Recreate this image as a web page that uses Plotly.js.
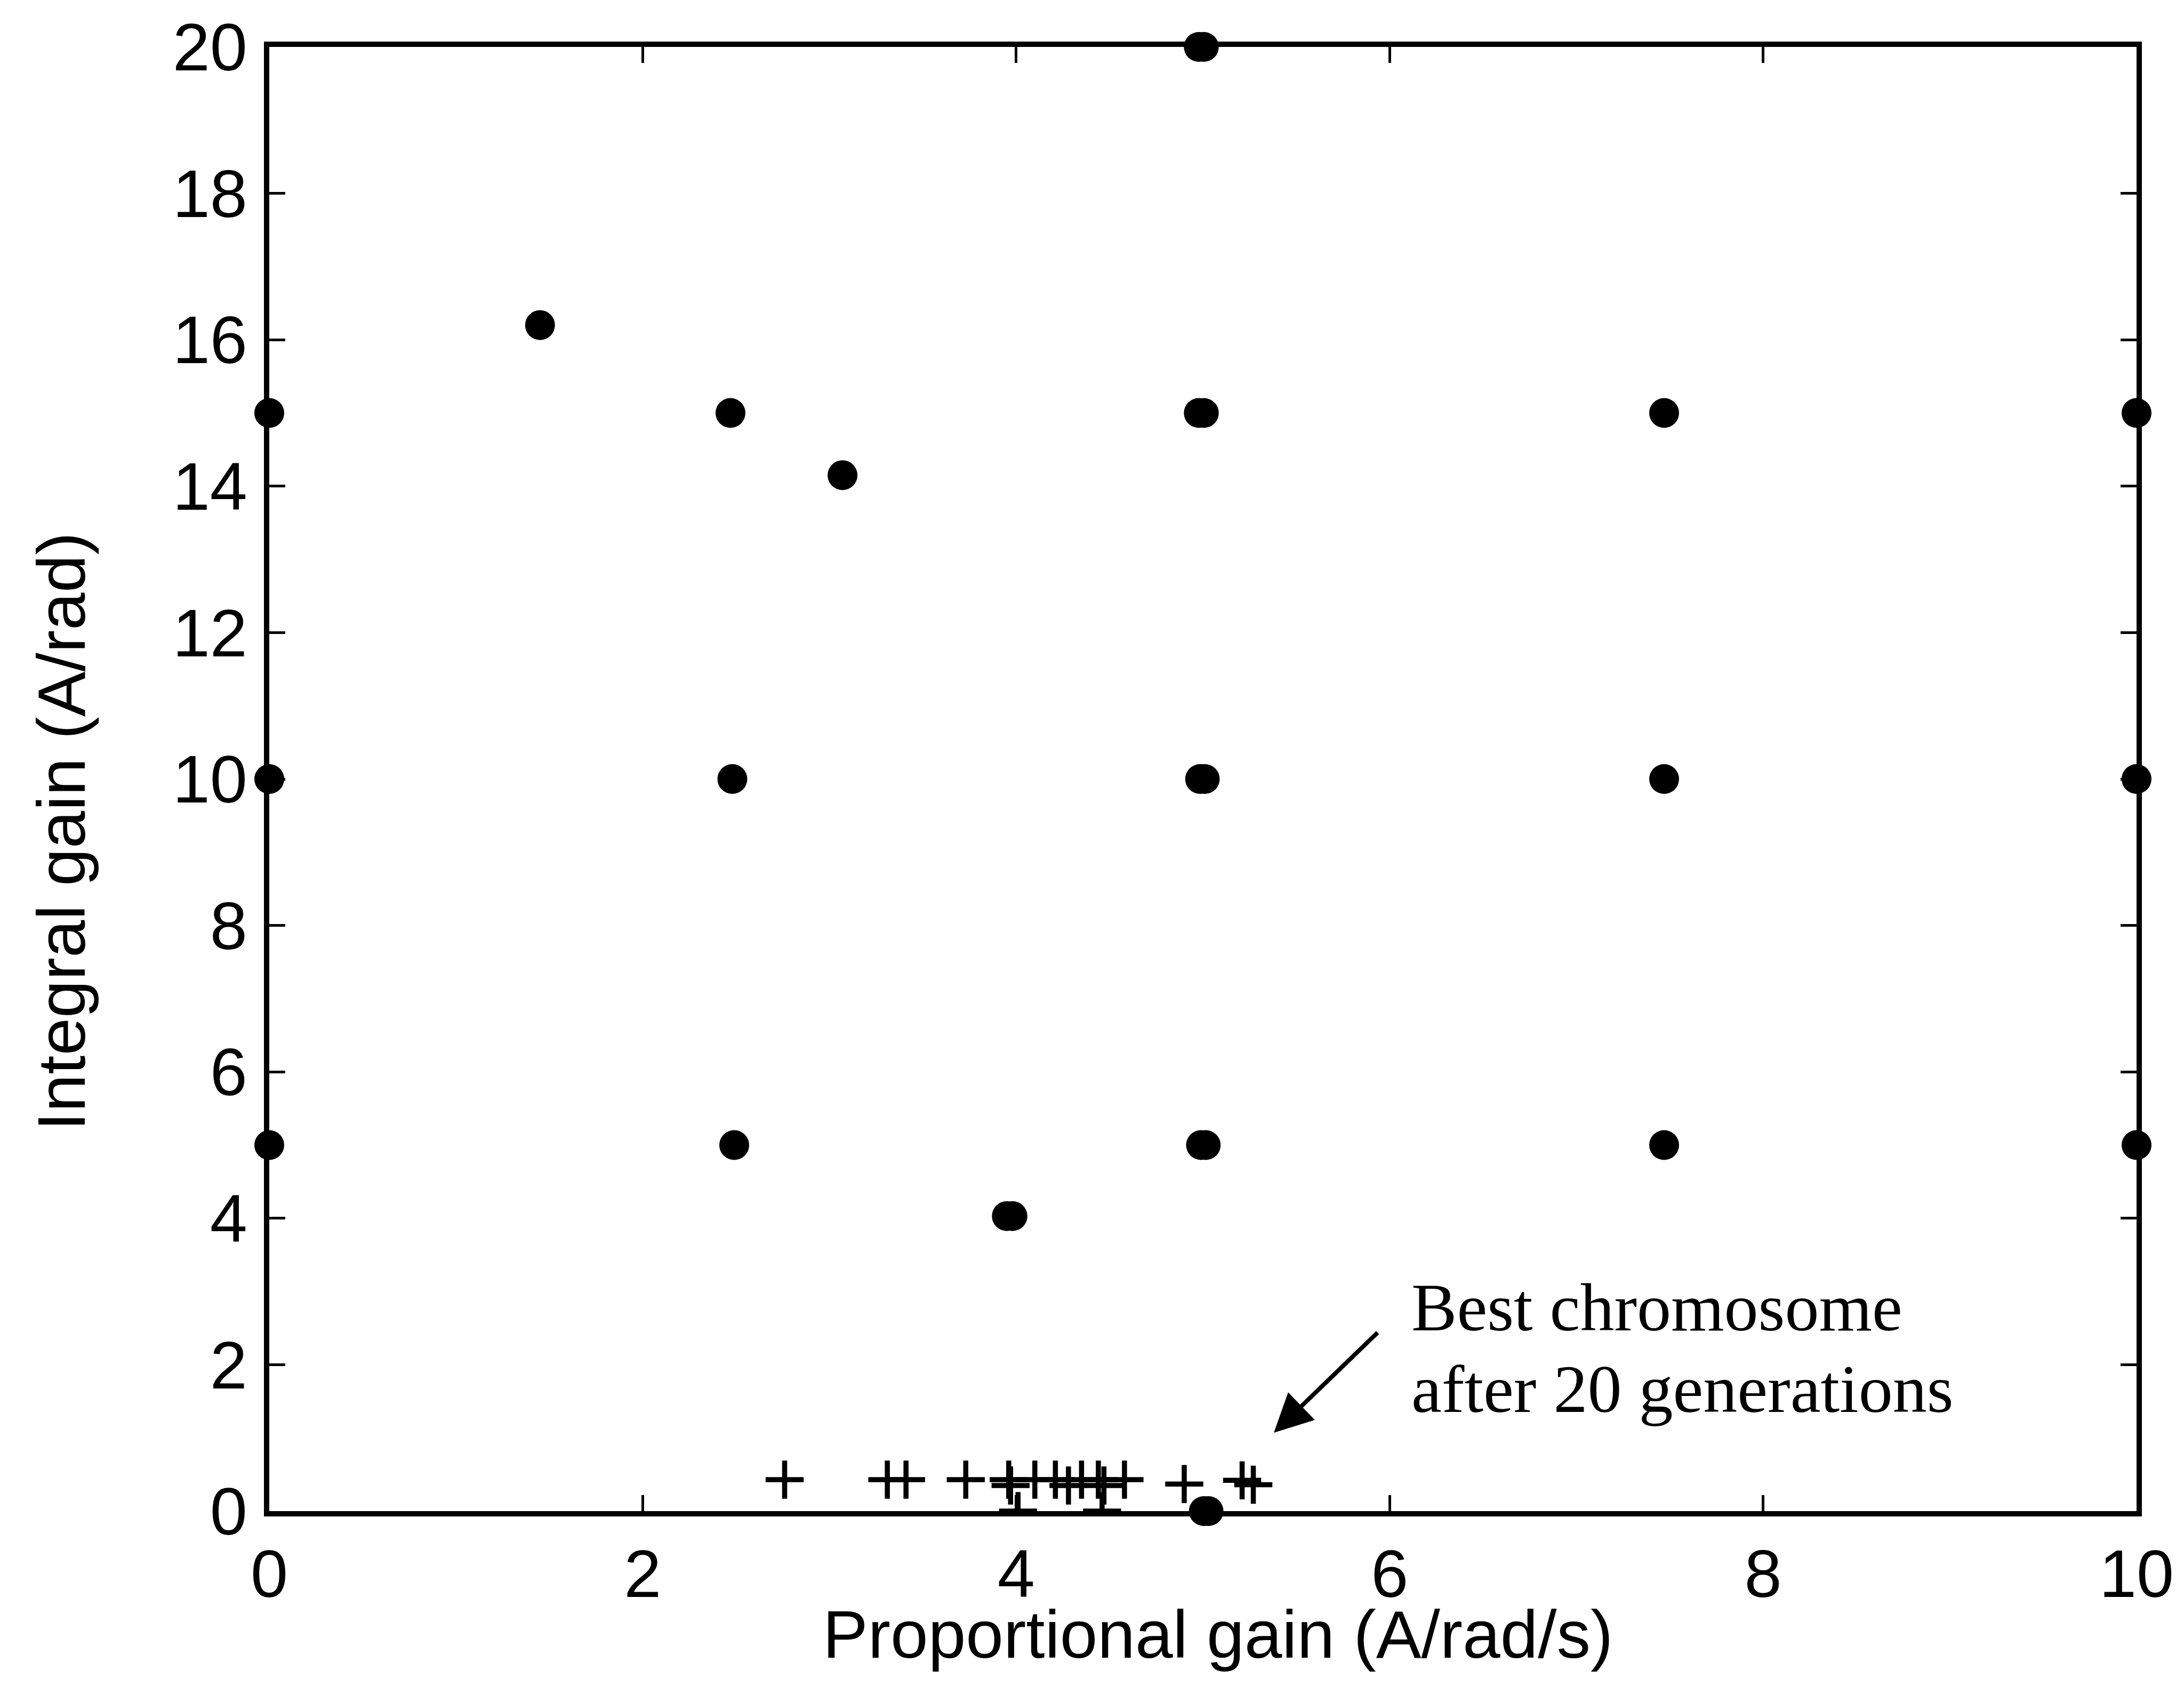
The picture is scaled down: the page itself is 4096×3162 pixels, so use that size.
<!DOCTYPE html>
<html>
<head>
<meta charset="utf-8">
<script src="https://cdn.plot.ly/plotly-3.0.1.min.js"></script>
<style>
  html, body { margin: 0; padding: 0; background: #ffffff; }
  #chart { width: 4096px; height: 3162px; }
</style>
</head>
<body>
<div id="chart"></div>
<script>
// Population (filled circles): proportional gain vs integral gain
const dotsKp = [0, 0, 0, 1.45, 2.47, 2.48, 2.49, 3.07, 3.95, 3.98,
                4.978, 5.005, 4.978, 5.005, 4.985, 5.01, 4.99, 5.015, 5.005, 5.03,
                7.47, 7.47, 7.47, 10, 10, 10];
const dotsKi = [15, 10, 5, 16.2, 15, 10, 5, 14.15, 4.03, 4.03,
                20, 20, 15, 15, 10, 10, 5, 5, 0, 0,
                15, 10, 5, 15, 10, 5];

// Population after 20 generations (plus markers)
const plusKp = [2.76, 3.31, 3.41, 3.73, 3.96, 4.10, 4.21, 4.35, 4.44, 4.58, 4.90, 5.21,
                3.97, 4.28, 4.47, 5.27,
                4.01, 4.46];
const plusKi = [0.43, 0.43, 0.43, 0.43, 0.43, 0.43, 0.43, 0.43, 0.43, 0.43, 0.37, 0.42,
                0.35, 0.35, 0.35, 0.36,
                0, 0];

const xTicks = [0, 2, 4, 6, 8, 10];
const yTicks = [0, 2, 4, 6, 8, 10, 12, 14, 16, 18, 20];

const xTitle = 'Proportional gain (A/rad/s)';
const yTitle = 'Integral gain (A/rad)';
const noteLines = ['Best chromosome', 'after 20 generations'];

const tickFont = {family: 'Liberation Sans, Arial, sans-serif', size: 126, color: '#000000'};
const titleFont = {family: 'Liberation Sans, Arial, sans-serif', size: 127, color: '#000000'};
const serifFont = {family: 'Liberation Serif, Times New Roman, serif', size: 128, color: '#000000'};

const traces = [
  {
    type: 'scatter', mode: 'markers', x: dotsKp, y: dotsKi,
    cliponaxis: false,
    marker: {symbol: 'circle', size: 56, color: '#000000', line: {width: 0}},
    hoverinfo: 'skip', showlegend: false
  },
  {
    type: 'scatter', mode: 'markers', x: plusKp, y: plusKi,
    cliponaxis: true,
    marker: {symbol: 'cross-thin-open', size: 51, color: '#000000',
             line: {width: 9.5, color: '#000000'}},
    hoverinfo: 'skip', showlegend: false
  }
];

const axisCommon = {
  showgrid: false, zeroline: false,
  showline: true, linecolor: '#000000', linewidth: 10, mirror: 'ticks',
  ticks: 'inside', ticklen: 30, tickwidth: 5, tickcolor: '#000000',
  tickfont: tickFont, automargin: false
};

const layout = {
  width: 4096, height: 3162,
  paper_bgcolor: '#ffffff', plot_bgcolor: '#ffffff',
  margin: {l: 505, r: 89, t: 88, b: 328, pad: 0},
  showlegend: false,
  xaxis: Object.assign({}, axisCommon, {
    range: [0, 10], tickvals: xTicks, ticktext: xTicks.map(String)
  }),
  yaxis: Object.assign({}, axisCommon, {
    range: [0, 20], tickvals: yTicks, ticktext: yTicks.map(String),
    ticklabelstandoff: 6
  }),
  annotations: [
    {x: 0.508, y: -0.084, xref: 'paper', yref: 'paper', text: xTitle, showarrow: false,
     xanchor: 'center', yanchor: 'middle', font: titleFont},
    {x: -0.1114, y: 0.464, xref: 'paper', yref: 'paper', text: yTitle, showarrow: false,
     textangle: -90, xanchor: 'center', yanchor: 'middle', font: titleFont},
    {x: 6.11, y: 2.78, xref: 'x', yref: 'y', text: noteLines[0], showarrow: false,
     xanchor: 'left', yanchor: 'middle', font: serifFont},
    {x: 6.11, y: 1.67, xref: 'x', yref: 'y', text: noteLines[1], showarrow: false,
     xanchor: 'left', yanchor: 'middle', font: serifFont},
    {x: 5.38, y: 1.07, xref: 'x', yref: 'y', ax: 5.94, ay: 2.45, axref: 'x', ayref: 'y',
     text: '', showarrow: true, arrowhead: 2, arrowsize: 1.8, arrowwidth: 8,
     arrowcolor: '#000000', standoff: 0}
  ]
};

Plotly.newPlot('chart', traces, layout, {staticPlot: true, displayModeBar: false});
</script>
</body>
</html>
